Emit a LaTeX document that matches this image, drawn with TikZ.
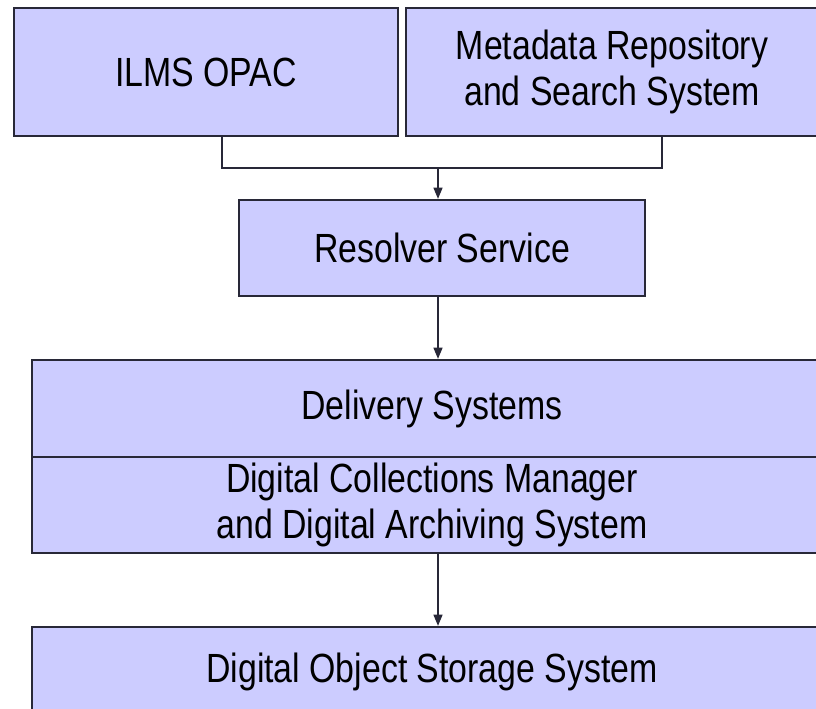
\documentclass[tikz,border=0pt]{standalone}
\usepackage{fontspec}
\setmainfont{Liberation Sans}[FakeStretch=0.83]
\usepackage{tikz}
\usetikzlibrary{arrows.meta,calc}
\definecolor{boxfill}{RGB}{204,204,255}
\definecolor{boxline}{RGB}{40,40,56}

\begin{document}
\begin{tikzpicture}[x=0.025cm,y=-0.025cm,
  sysbox/.style={draw=boxline, line width=1.5pt, fill=boxfill, inner sep=0pt,
    align=center, font=\fontsize{29}{33}\selectfont},
  link/.style={draw=boxline, line width=1.3pt},
  flow/.style={link, -{Triangle[length=2.8mm,width=2.2mm]}}]
\useasboundingbox (0,0) rectangle (816,709);

% top row
\node[sysbox, minimum width=9.6cm, minimum height=3.2cm] (ilms) at (206,72) {ILMS OPAC};
\node[sysbox, minimum width=10.3cm, minimum height=3.2cm] (meta) at (612,72)
  {Metadata Repository\\and Search System};

\node[sysbox, minimum width=10.15cm, minimum height=2.4cm] (resolver) at (442,248) {Resolver Service};

% delivery block, two parts
\node[sysbox, minimum width=20cm, minimum height=2.425cm] (delivery) at (432,408.5) {Delivery Systems};
\node[sysbox, minimum width=20cm, minimum height=2.4cm] (dcm) at (432,505)
  {Digital Collections Manager\\and Digital Archiving System};

\node[sysbox, minimum width=20cm, minimum height=2.25cm] (doss) at (432,672) {Digital Object Storage System};

% connectors
\coordinate (join) at (438,168);
\draw[link] ([xshift=0.4cm]ilms.south) |- (join) -| ([xshift=1.25cm]meta.south);
\draw[flow] (join) -- (join |- resolver.north);
\draw[flow] (join |- resolver.south) -- (join |- delivery.north);
\draw[flow] (join |- dcm.south) -- (join |- doss.north);
\end{tikzpicture}
\end{document}
